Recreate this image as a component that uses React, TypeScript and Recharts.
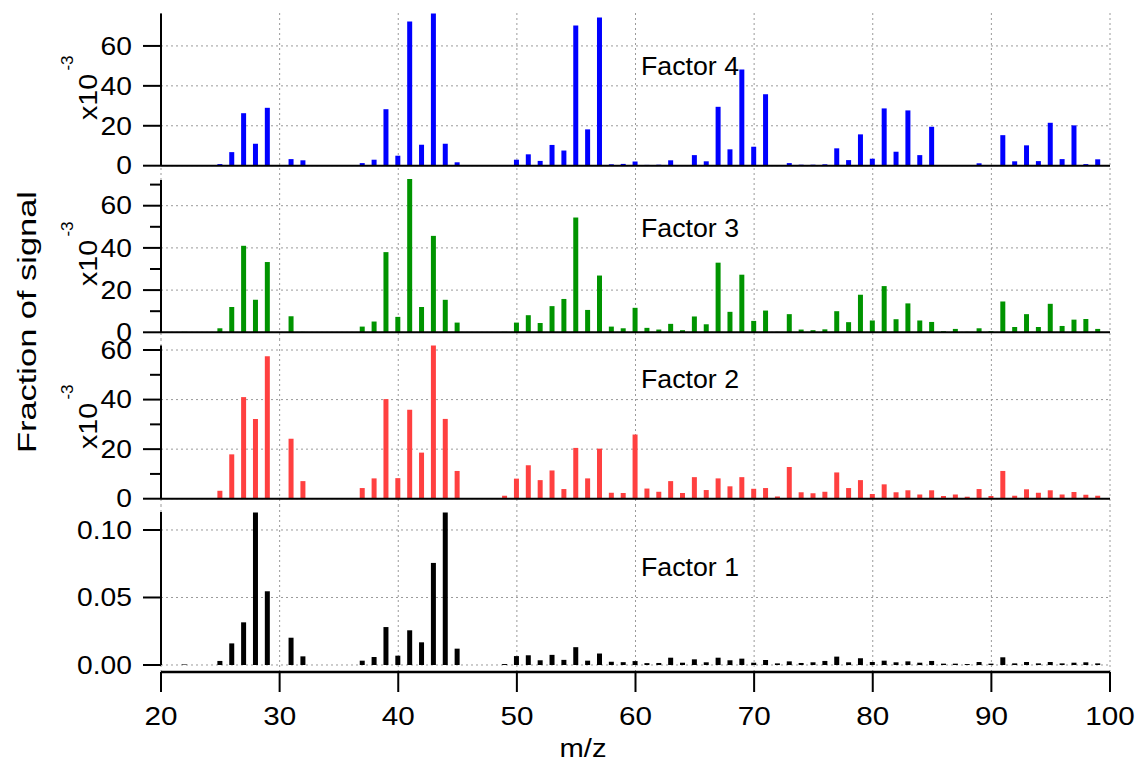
import React from 'react';
import { BarChart, Bar, XAxis, YAxis, CartesianGrid, ReferenceLine } from 'recharts';

// m/z channels that carry a bar
const mz = [
  22, 25, 26, 27, 28, 29, 31, 32, 37, 38, 39, 40, 41, 42, 43, 44, 45,
  49, 50, 51, 52, 53, 54, 55, 56, 57, 58, 59, 60, 61, 62, 63, 64, 65, 66, 67, 68, 69, 70,
  71, 72, 73, 74, 75, 76, 77, 78, 79, 80, 81, 82, 83, 84, 85, 86, 87, 88, 89, 90,
  91, 92, 93, 94, 95, 96, 97, 98, 99,
];

// x10^-3
const factor4 = [
  0.2, 0.8, 6.8, 26.3, 11, 29, 3.3, 2.7, 1.3, 3, 28.3, 5, 72.3, 10.5, 76.3, 11, 1.7,
  0.2, 3, 5.7, 2.4, 10.4, 7.6, 70.2, 18.2, 74.2, 0.7, 0.9, 2.1, 0.4, 0.5, 2.7, 0.3, 5.3, 2.2, 29.5, 8.2, 48.2, 9.5,
  35.8, 0.2, 1.3, 0.5, 0.5, 0.7, 8.7, 2.8, 15.7, 3.5, 28.7, 7, 27.7, 5.3, 19.5, 0.1, 0.2, 0.1, 1.2, 0,
  15.3, 2.2, 10.2, 2.3, 21.5, 3.3, 20.2, 0.8, 3.2,
];

const factor3 = [
  0.2, 1.9, 12, 41, 15.4, 33.3, 7.6, 0.2, 2.7, 5.1, 38, 7.3, 72.7, 12, 45.7, 15.4, 4.6,
  0.2, 4.6, 8.1, 4.4, 12.4, 15.8, 54.4, 10.6, 26.9, 2.7, 1.9, 11.6, 2.1, 1.3, 4, 1, 7.5, 3.8, 33, 9.7, 27.3, 5.4,
  10.3, 0.2, 8.6, 1.3, 1, 1.4, 10, 4.8, 17.8, 5.6, 21.9, 6.2, 13.7, 5.6, 4.9, 0.5, 1.6, 0.2, 1.9, 0.5,
  14.6, 2.5, 8.6, 2.5, 13.5, 3, 6, 6.3, 1.6,
];

const factor2 = [
  0.2, 3.2, 17.9, 41, 32.2, 57.5, 24.2, 7.1, 4.3, 8.2, 40.2, 8.3, 35.9, 18.6, 61.8, 32.2, 11.2,
  1.2, 8.1, 13.5, 7.5, 11.4, 3.9, 20.5, 8.2, 20.2, 2.4, 2.3, 25.9, 4.1, 2.8, 7.1, 2.3, 8.7, 3.5, 8.2, 5, 8.7, 4,
  4.3, 0.9, 12.8, 2.6, 2.2, 2.8, 10.6, 4.3, 7.5, 1.9, 5.8, 2.6, 3.4, 1.7, 3.4, 1.1, 1.7, 0.8, 3.9, 1.1,
  11.2, 1.2, 3.8, 2.4, 3.4, 1.7, 2.7, 1.6, 1.2,
];

const factor1 = [
  0.0004, 0.003, 0.016, 0.0316, 0.113, 0.0546, 0.0202, 0.0064, 0.0032, 0.0059, 0.0281, 0.0069, 0.0257, 0.0168, 0.0756, 0.113, 0.0121,
  0.0007, 0.0066, 0.0072, 0.0035, 0.0075, 0.0038, 0.0132, 0.0032, 0.0085, 0.0024, 0.0021, 0.0029, 0.0014, 0.0015, 0.0054, 0.0017, 0.0042, 0.002, 0.0054, 0.0035, 0.0047, 0.0017,
  0.0037, 0.0012, 0.0027, 0.0015, 0.002, 0.003, 0.0062, 0.002, 0.005, 0.0022, 0.0032, 0.002, 0.0027, 0.0017, 0.003, 0.001, 0.001, 0.0007, 0.0022, 0.001,
  0.0057, 0.0012, 0.0022, 0.0012, 0.0022, 0.0012, 0.0017, 0.002, 0.0012,
];

const xTicks = [20, 30, 40, 50, 60, 70, 80, 90, 100];

const rows = mz.map((m, i) => ({ mz: m, f1: factor1[i], f2: factor2[i], f3: factor3[i], f4: factor4[i] }));

const FONT = '"Liberation Sans", Arial, Helvetica, sans-serif';
const FS = 25;
const STRETCH = 1.13;
const AXIS_X = 161;
const GRID = '#9a9a9a';

const makeYTick = (major: number[], fmt: (v: number) => string) => (props: any) => {
  const { y, payload } = props;
  const v = payload.value;
  const isMajor = major.includes(v);
  return (
    <g>
      <line x1={AXIS_X - (isMajor ? 18 : 11)} x2={AXIS_X} y1={y} y2={y} stroke="#000" strokeWidth={2} />
      {isMajor && (
        <text transform={`translate(${AXIS_X - 29},${y}) scale(${STRETCH},1)`} dy="0.35em" textAnchor="end"
          fontSize={FS} fontFamily={FONT} fill="#000">
          {fmt(v)}
        </text>
      )}
    </g>
  );
};

const XTick = (props: any) => {
  const { x, y, payload } = props;
  return (
    <text transform={`translate(${x},${y}) scale(${STRETCH * 1.05},1)`} dy="0.71em" textAnchor="middle"
      fontSize={FS} fontFamily={FONT} fill="#000">
      {payload.value}
    </text>
  );
};

interface PanelProps {
  top: number;
  height: number;
  dataKey: string;
  color: string;
  domain: [number, number];
  ticks: number[];
  major: number[];
  axisTop: number;
  fmt: (v: number) => string;
  bottom?: boolean;
}

const Panel = ({ top, height, dataKey, color, domain, ticks, major, axisTop, fmt, bottom }: PanelProps) => (
  <div style={{ position: 'absolute', left: 0, top }}>
    <BarChart width={1139} height={height} data={rows} margin={{ top: 0, right: 29, left: 0, bottom: 0 }}>
      <CartesianGrid stroke={GRID} strokeDasharray="2 3" horizontalValues={major} verticalValues={xTicks} />
      <XAxis
        type="number"
        dataKey="mz"
        domain={[20, 100]}
        ticks={xTicks}
        allowDataOverflow
        hide={!bottom}
        height={91}
        interval={0}
        axisLine={{ stroke: '#000', strokeWidth: 2.5 }}
        tickLine={{ stroke: '#000', strokeWidth: 2 }}
        tickSize={20}
        tickMargin={15}
        tick={XTick}
      />
      <YAxis
        type="number"
        domain={domain}
        ticks={ticks}
        allowDataOverflow
        interval={0}
        width={161}
        axisLine={false}
        tickLine={false}
        tick={makeYTick(major, fmt)}
      />
      <Bar dataKey={dataKey} fill={color} barSize={5} isAnimationActive={false} />
      <ReferenceLine segment={[{ x: 20, y: 0 }, { x: 20, y: axisTop }]} stroke="#000" strokeWidth={2} />
      {!bottom && <ReferenceLine y={0} stroke="#000" strokeWidth={2} />}
    </BarChart>
  </div>
);

const int = (v: number) => String(v);
const two = (v: number) => v.toFixed(2);

// "x10" rotated, with its "-3" exponent above it
const ExpLabel = ({ y }: { y: number }) => (
  <g>
    <text transform={`translate(88,${y}) rotate(-90)`} textAnchor="middle" dy="0.35em" fontSize={FS}
      fontFamily={FONT} fill="#000" textLength={46} lengthAdjust="spacingAndGlyphs">
      x10
    </text>
    <text transform={`translate(67,${y - 34}) rotate(-90)`} textAnchor="middle" dy="0.35em" fontSize={17}
      fontFamily={FONT} fill="#000">
      -3
    </text>
  </g>
);

const FactorLabel = ({ y, text }: { y: number; text: string }) => (
  <text x={641} y={y} dy="0.35em" fontSize={FS} fontFamily={FONT} fill="#000" textLength={98} lengthAdjust="spacingAndGlyphs">
    {text}
  </text>
);

export default function App() {
  return (
    <div style={{ position: 'absolute', left: 0, top: 0, width: 1139, height: 763, background: '#fff', fontFamily: FONT }}>
      <style>{'svg { overflow: visible; }'}</style>
      <Panel top={13} height={160} dataKey="f4" color="#0000ff" domain={[-3.66, 76.5]}
        ticks={[0, 20, 40, 60]} major={[0, 20, 40, 60]} axisTop={76.2} fmt={int} />
      <Panel top={173} height={166} dataKey="f3" color="#009400" domain={[-3.18, 75.5]}
        ticks={[0, 10, 20, 30, 40, 50, 60, 70]} major={[0, 20, 40, 60]} axisTop={72.2} fmt={int} />
      <Panel top={339} height={166} dataKey="f2" color="#ff4040" domain={[-2.54, 64.45]}
        ticks={[0, 10, 20, 30, 40, 50, 60]} major={[0, 20, 40, 60]} axisTop={61.8} fmt={int} />
      <Panel top={505} height={258} dataKey="f1" color="#000000" domain={[-0.00519, 0.1185]}
        ticks={[0, 0.05, 0.1]} major={[0, 0.05, 0.1]} axisTop={0.1133} fmt={two} bottom />
      <svg width={1139} height={763} style={{ position: 'absolute', left: 0, top: 0, pointerEvents: 'none' }}>
        <text transform="translate(27,322) rotate(-90)" textAnchor="middle" dy="0.35em" fontSize={FS} fontFamily={FONT}
          fill="#000" textLength={262} lengthAdjust="spacingAndGlyphs">
          Fraction of signal
        </text>
        <text x={583} y={748} dy="0.35em" textAnchor="middle" fontSize={FS} fontFamily={FONT} fill="#000"
          textLength={47} lengthAdjust="spacingAndGlyphs">
          m/z
        </text>
        <ExpLabel y={97} />
        <ExpLabel y={263} />
        <ExpLabel y={426} />
        <FactorLabel y={66} text="Factor 4" />
        <FactorLabel y={228} text="Factor 3" />
        <FactorLabel y={379} text="Factor 2" />
        <FactorLabel y={567} text="Factor 1" />
      </svg>
    </div>
  );
}
